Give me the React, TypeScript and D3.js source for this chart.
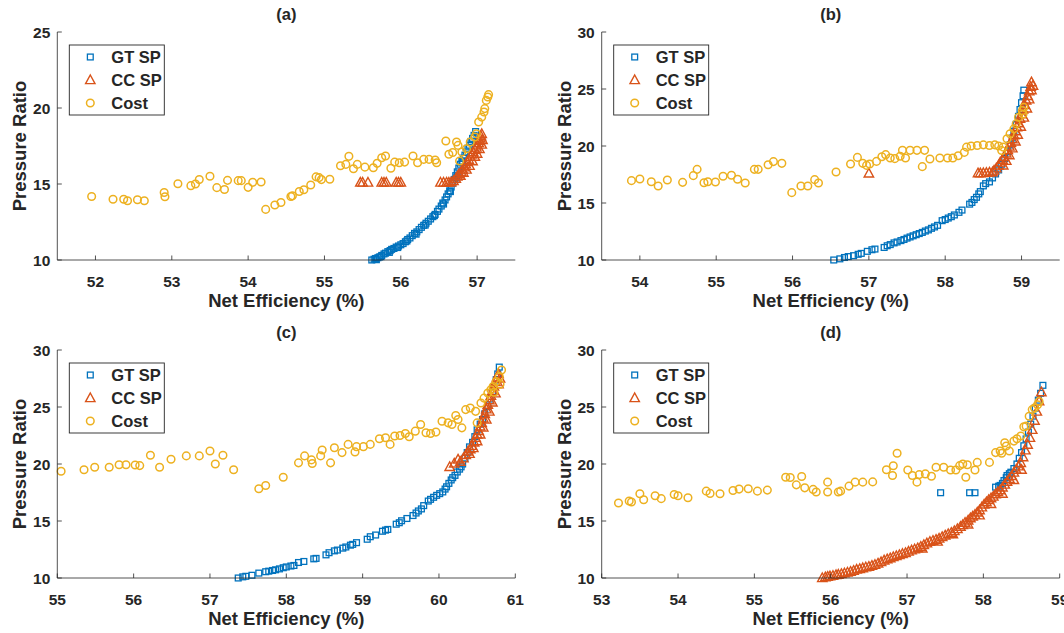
import React from 'react';
import * as d3 from 'd3';

type Pt = [number, number];

// ---------- Panel (a) ----------
const GT_A: Pt[] = [[55.62,10.0],[55.65,10.05],[55.67,10.1],[55.70,10.15],[55.72,10.2],[55.75,10.3],[55.78,10.4],[55.80,10.45],[55.83,10.55],[55.86,10.62],[55.88,10.7],[55.91,10.76],[55.94,10.85],[55.97,10.92],[56.00,11.0],[56.03,11.08],[56.06,11.2],[56.09,11.35],[56.12,11.45],[56.15,11.6],[56.18,11.75],[56.21,11.85],[56.24,12.0],[56.27,12.15],[56.30,12.28],[56.33,12.42],[56.36,12.55],[56.39,12.7],[56.42,12.85],[56.45,13.0],[56.48,13.2],[56.50,13.35],[56.53,13.55],[56.55,13.75],[56.58,13.95],[56.60,14.15],[56.62,14.35],[56.64,14.55],[56.66,14.8],[56.68,15.05],[56.70,15.3],[56.72,15.55],[56.74,15.8],[56.76,16.05],[56.78,16.3],[56.80,16.5],[56.82,16.7],[56.84,16.9],[56.86,17.1],[56.88,17.35],[56.90,17.55],[56.92,17.8],[56.94,18.0],[56.96,18.2],[56.98,18.45],[55.68,10.02],[55.74,10.22],[55.85,10.5],[55.96,10.82],[56.08,11.25],[56.2,11.7],[56.32,12.3],[56.44,12.92],[56.56,13.68],[56.65,14.5],[56.73,15.4],[56.81,16.4]];
const CC_A: Pt[] = [[55.47,15.1],[55.50,15.1],[55.57,15.1],[55.75,15.1],[55.78,15.1],[55.81,15.1],[55.94,15.1],[55.97,15.1],[56.00,15.1],[56.52,15.1],[56.56,15.1],[56.60,15.1],[56.63,15.1],[56.66,15.12],[56.69,15.2],[56.72,15.35],[56.74,15.5],[56.76,15.65],[56.79,15.8],[56.81,15.95],[56.83,16.1],[56.85,16.3],[56.87,16.45],[56.89,16.6],[56.91,16.8],[56.93,16.95],[56.95,17.1],[56.97,17.25],[56.99,17.4],[57.0,17.55],[57.02,17.7],[57.03,17.85],[57.04,18.0],[57.05,18.15],[57.06,18.3],[56.78,15.55],[56.82,15.75],[56.86,15.95],[56.9,16.2],[56.94,16.5],[56.97,16.8],[57.0,17.0],[57.03,17.3],[57.06,17.6],[57.07,17.9]];
const COST_A: Pt[] = [[51.95,14.18],[52.23,14.0],[52.37,14.0],[52.42,13.9],[52.55,13.96],[52.64,13.9],[52.9,14.44],[52.91,14.16],[53.08,15.02],[53.25,14.89],[53.31,15.0],[53.36,15.29],[53.5,15.51],[53.59,14.76],[53.69,14.64],[53.73,15.24],[53.87,15.22],[53.91,15.22],[54.0,14.78],[54.06,15.11],[54.17,15.13],[54.23,13.33],[54.35,13.62],[54.43,13.78],[54.56,14.18],[54.58,14.22],[54.67,14.51],[54.73,14.62],[54.82,14.93],[54.89,15.47],[54.93,15.42],[54.96,15.29],[55.07,15.31],[55.21,16.2],[55.28,16.29],[55.32,16.82],[55.38,16.0],[55.43,16.29],[55.53,16.11],[55.64,16.07],[55.69,16.36],[55.75,16.73],[55.8,16.84],[55.87,16.04],[55.92,16.44],[55.98,16.4],[56.05,16.44],[56.16,16.84],[56.22,16.4],[56.3,16.62],[56.37,16.62],[56.45,16.58],[56.47,16.4],[56.59,17.83],[56.63,16.96],[56.68,17.07],[56.73,17.76],[56.75,17.54],[56.77,16.51],[56.8,17.1],[56.86,17.32],[56.91,17.76],[56.97,18.09],[56.99,18.31],[57.02,19.08],[57.06,19.4],[57.09,19.74],[57.1,19.96],[57.12,20.5],[57.14,20.72],[57.15,20.88]];

// ---------- Panel (b) ----------
const GT_B: Pt[] = [[56.54,10.0],[56.62,10.1],[56.68,10.22],[56.73,10.3],[56.8,10.38],[56.86,10.5],[56.9,10.58],[56.98,10.76],[57.04,10.9],[57.08,10.96],[57.2,11.1],[57.24,11.25],[57.28,11.35],[57.33,11.5],[57.37,11.58],[57.42,11.7],[57.46,11.8],[57.5,11.92],[57.54,12.02],[57.58,12.12],[57.62,12.22],[57.66,12.32],[57.7,12.42],[57.74,12.54],[57.78,12.64],[57.82,12.78],[57.86,12.9],[57.9,13.04],[57.96,13.45],[58.0,13.55],[58.04,13.68],[58.08,13.8],[58.12,13.95],[58.18,14.18],[58.22,14.38],[58.32,14.9],[58.35,15.05],[58.38,15.3],[58.41,15.5],[58.44,15.8],[58.46,16.0],[58.5,16.5],[58.53,16.7],[58.58,16.85],[58.62,17.2],[58.66,17.55],[58.7,17.9],[58.74,18.4],[58.78,18.9],[58.82,19.5],[58.85,20.1],[58.88,20.7],[58.9,21.3],[58.93,21.9],[58.96,22.6],[58.98,23.2],[59.0,23.8],[59.02,24.4],[59.03,24.9]];
const CC_B: Pt[] = [[57.0,17.6],[58.43,17.62],[58.46,17.62],[58.5,17.63],[58.54,17.65],[58.58,17.68],[58.62,17.7],[58.64,17.85],[58.67,18.05],[58.7,18.3],[58.72,18.55],[58.75,18.8],[58.77,19.05],[58.8,19.35],[58.82,19.65],[58.84,19.95],[58.86,20.3],[58.88,20.6],[58.9,20.95],[58.92,21.3],[58.94,21.65],[58.96,22.0],[58.98,22.4],[59.0,22.8],[59.02,23.2],[59.04,23.6],[59.06,24.0],[59.08,24.4],[59.1,24.8],[59.12,25.2],[59.13,25.6],[58.76,18.3],[58.8,18.7],[58.84,19.2],[58.88,19.8],[58.92,20.4],[58.95,21.0],[58.99,21.7],[59.03,22.5],[59.07,23.3],[59.1,24.1],[59.13,24.9],[59.15,25.3]];
const COST_B: Pt[] = [[53.89,16.96],[54.0,17.1],[54.15,16.87],[54.24,16.49],[54.36,17.02],[54.56,16.81],[54.7,17.4],[54.75,17.95],[54.84,16.78],[54.89,16.87],[54.99,16.84],[55.09,17.34],[55.2,17.43],[55.28,17.08],[55.38,16.75],[55.5,17.95],[55.55,17.95],[55.68,18.36],[55.75,18.63],[55.86,18.48],[55.99,15.91],[56.11,16.49],[56.2,16.49],[56.29,17.05],[56.34,16.75],[56.57,17.72],[56.76,18.42],[56.85,19.0],[56.92,18.48],[56.97,18.3],[57.01,18.42],[57.1,18.65],[57.17,19.06],[57.22,19.24],[57.28,18.95],[57.34,18.89],[57.41,19.1],[57.44,19.62],[57.48,18.95],[57.54,19.62],[57.63,19.62],[57.7,18.19],[57.73,19.62],[57.8,18.86],[57.93,18.95],[58.03,18.95],[58.1,18.95],[58.17,19.15],[58.25,19.44],[58.28,19.9],[58.34,20.0],[58.42,20.05],[58.5,20.1],[58.58,20.05],[58.65,20.1],[58.7,20.0],[58.76,19.9],[58.74,19.6],[58.81,20.64],[58.85,21.07],[58.9,21.5],[58.93,21.94],[58.96,22.52],[59.01,23.1],[59.03,23.39],[59.02,22.8]];

// ---------- Panel (c) ----------
const GT_C: Pt[] = [[57.37,10.0],[57.43,10.1],[57.47,10.15],[57.55,10.24],[57.64,10.43],[57.73,10.55],[57.77,10.6],[57.82,10.66],[57.86,10.72],[57.91,10.8],[57.96,10.9],[58.0,10.97],[58.06,11.05],[58.1,11.1],[58.16,11.36],[58.23,11.45],[58.36,11.68],[58.39,11.72],[58.52,12.03],[58.56,12.22],[58.63,12.38],[58.67,12.45],[58.74,12.62],[58.78,12.72],[58.84,12.88],[58.87,12.95],[58.92,13.1],[59.06,13.4],[59.1,13.62],[59.17,13.77],[59.26,14.1],[59.3,14.2],[59.33,14.26],[59.44,14.72],[59.48,14.85],[59.51,15.02],[59.58,15.22],[59.66,15.48],[59.7,15.7],[59.73,15.88],[59.77,16.06],[59.8,16.35],[59.86,16.75],[59.89,16.9],[59.93,17.08],[59.97,17.25],[60.01,17.4],[60.05,17.55],[60.08,17.8],[60.1,18.0],[60.13,18.3],[60.16,18.6],[60.18,18.8],[60.21,19.0],[60.24,19.3],[60.27,19.55],[60.29,19.75],[60.31,20.0],[60.34,20.5],[60.37,21.0],[60.4,21.5],[60.44,21.9],[60.47,22.4],[60.5,23.0],[60.54,23.5],[60.57,23.9],[60.6,24.4],[60.64,25.05],[60.67,25.7],[60.7,26.3],[60.72,26.8],[60.75,27.4],[60.77,27.9],[60.79,28.5]];
const CC_C: Pt[] = [[60.14,19.75],[60.2,20.05],[60.25,20.4],[60.28,20.2],[60.32,20.5],[60.35,20.8],[60.38,21.1],[60.41,21.3],[60.43,21.6],[60.46,21.9],[60.48,22.3],[60.5,22.6],[60.52,22.9],[60.54,23.3],[60.56,23.6],[60.58,24.0],[60.6,24.4],[60.62,24.8],[60.64,25.2],[60.66,25.6],[60.68,26.0],[60.7,26.4],[60.72,26.8],[60.74,27.2],[60.76,27.6],[60.78,27.9],[60.4,20.9],[60.45,21.4],[60.5,22.0],[60.54,22.6],[60.58,23.2],[60.62,23.9],[60.66,24.6],[60.7,25.4],[60.74,26.2],[60.78,27.0],[60.8,27.5]];
const COST_C: Pt[] = [[55.05,19.36],[55.35,19.5],[55.49,19.71],[55.68,19.71],[55.81,19.94],[55.9,19.94],[56.02,19.91],[56.08,19.86],[56.22,20.77],[56.34,19.71],[56.49,20.42],[56.69,20.71],[56.86,20.71],[57.0,21.14],[57.07,20.0],[57.17,20.77],[57.31,19.5],[57.64,17.83],[57.73,18.12],[57.96,18.84],[58.16,20.1],[58.24,20.71],[58.33,20.36],[58.34,20.05],[58.45,20.71],[58.47,21.23],[58.58,20.1],[58.63,21.43],[58.73,21.0],[58.81,21.72],[58.9,21.06],[58.92,21.52],[59.01,21.52],[59.1,21.72],[59.22,22.22],[59.3,22.3],[59.36,21.72],[59.42,22.45],[59.49,22.5],[59.56,22.68],[59.61,22.39],[59.69,22.88],[59.76,23.46],[59.83,22.74],[59.89,22.68],[59.96,22.8],[60.04,23.75],[60.12,23.61],[60.17,23.46],[60.22,24.25],[60.25,23.9],[60.3,23.17],[60.35,24.77],[60.41,24.91],[60.48,24.62],[60.5,23.61],[60.55,25.35],[60.59,25.78],[60.64,26.22],[60.68,26.51],[60.71,26.8],[60.75,27.23],[60.79,27.67],[60.82,28.25],[60.8,27.0],[60.72,26.3]];

// ---------- Panel (d) ----------
const GT_D: Pt[] = [[57.44,17.48],[57.82,17.48],[57.89,17.48],[58.16,17.97],[58.2,18.05],[58.22,18.12],[58.25,18.3],[58.27,18.55],[58.3,18.8],[58.31,18.99],[58.34,19.15],[58.36,19.28],[58.4,19.6],[58.44,20.0],[58.47,20.5],[58.5,21.0],[58.53,21.6],[58.56,22.2],[58.59,22.8],[58.62,23.5],[58.65,24.2],[58.68,24.9],[58.72,25.6],[58.75,26.2],[58.78,26.9]];
const CC_D: Pt[] = [[55.89,10.0],[55.93,10.08],[55.96,10.12],[55.99,10.16],[56.03,10.2],[56.07,10.26],[56.1,10.3],[56.14,10.36],[56.18,10.42],[56.22,10.48],[56.26,10.56],[56.3,10.65],[56.34,10.74],[56.38,10.8],[56.42,10.87],[56.46,10.94],[56.5,11.0],[56.54,11.08],[56.58,11.16],[56.62,11.28],[56.66,11.4],[56.7,11.55],[56.74,11.65],[56.78,11.74],[56.82,11.84],[56.86,11.93],[56.9,12.02],[56.94,12.12],[56.98,12.2],[57.02,12.32],[57.06,12.43],[57.1,12.52],[57.14,12.62],[57.18,12.75],[57.22,12.9],[57.26,13.05],[57.3,13.18],[57.34,13.28],[57.38,13.36],[57.42,13.46],[57.46,13.6],[57.5,13.74],[57.54,13.86],[57.58,13.98],[57.62,14.12],[57.66,14.3],[57.7,14.5],[57.73,14.65],[57.76,14.85],[57.8,15.05],[57.83,15.25],[57.86,15.4],[57.89,15.55],[57.92,15.75],[57.95,15.95],[57.98,16.2],[58.01,16.45],[58.04,16.65],[58.07,16.85],[58.1,17.0],[58.13,17.15],[58.16,17.35],[58.19,17.55],[58.22,17.7],[58.25,17.95],[58.28,18.2],[58.31,18.45],[58.34,18.7],[58.37,18.95],[58.4,19.25],[58.43,19.5],[58.46,19.8],[58.49,20.1],[58.52,20.6],[58.55,21.2],[58.58,21.7],[58.61,22.3],[58.64,23.0],[58.67,23.8],[58.7,24.6],[58.73,25.5],[58.76,26.3],[57.2,12.6],[57.4,13.2],[57.6,13.85],[57.8,14.7],[57.95,15.5],[58.1,16.5],[58.25,17.4],[58.4,18.6],[58.5,19.5]];
const COST_D: Pt[] = [[53.22,16.58],[53.36,16.75],[53.39,16.67],[53.5,17.39],[53.55,16.87],[53.7,17.22],[53.78,16.96],[53.95,17.33],[54.0,17.22],[54.13,17.04],[54.37,17.62],[54.42,17.42],[54.55,17.39],[54.72,17.68],[54.8,17.8],[54.92,17.83],[55.04,17.62],[55.17,17.71],[55.41,18.84],[55.47,18.81],[55.55,18.17],[55.62,18.9],[55.66,17.91],[55.77,17.77],[55.81,17.54],[55.96,18.41],[55.96,17.54],[56.1,17.54],[56.13,17.62],[56.24,18.06],[56.32,18.41],[56.42,18.41],[56.55,18.43],[56.73,19.5],[56.81,18.99],[56.82,19.85],[56.87,20.94],[57.01,19.48],[57.07,18.99],[57.13,18.41],[57.16,19.07],[57.24,19.13],[57.32,18.93],[57.38,19.71],[57.48,19.71],[57.57,19.48],[57.64,19.48],[57.69,19.86],[57.73,20.0],[57.77,18.84],[57.79,19.94],[57.89,19.48],[57.92,20.14],[58.08,20.14],[58.16,21.0],[58.22,21.14],[58.24,20.94],[58.28,21.87],[58.3,21.58],[58.34,21.14],[58.4,22.01],[58.44,22.22],[58.49,22.45],[58.53,23.26],[58.56,23.32],[58.6,24.19],[58.64,24.77],[58.67,24.91],[58.71,25.2],[58.73,25.49]];

const TICKS_A_X = [52, 53, 54, 55, 56, 57];
const TICKS_B_X = [54, 55, 56, 57, 58, 59];
const TICKS_C_X = [55, 56, 57, 58, 59, 60, 61];
const TICKS_D_X = [53, 54, 55, 56, 57, 58, 59];
const TICKS_Y_25 = [10, 15, 20, 25];
const TICKS_Y_30 = [10, 15, 20, 25, 30];
const SERIES = ['GT SP', 'CC SP', 'Cost'];

const BLUE = '#0072BD';
const ORANGE = '#D95319';
const YELLOW = '#EDB120';
const AX = '#262626';
const FONT = '"Liberation Sans", Arial, Helvetica, sans-serif';
const PW = 458;
const PH = 228;

const TRI = 'M0,-5 L4.7,3.6 L-4.7,3.6 Z';

function Square({ cx, cy }: { cx: number; cy: number }) {
  return <rect x={cx - 2.9} y={cy - 2.9} width={5.8} height={5.8} fill="none" stroke={BLUE} strokeWidth={1.3} />;
}
function Tri({ cx, cy }: { cx: number; cy: number }) {
  return <path d={TRI} transform={`translate(${cx},${cy})`} fill="none" stroke={ORANGE} strokeWidth={1.4} strokeLinejoin="miter" />;
}
function Circ({ cx, cy }: { cx: number; cy: number }) {
  return <circle cx={cx} cy={cy} r={3.8} fill="none" stroke={YELLOW} strokeWidth={1.5} />;
}

interface PanelProps {
  left: number; top: number; title: string;
  xDomain: [number, number]; yDomain: [number, number];
  xTicks: number[]; yTicks: number[];
  gt: Pt[]; cc: Pt[]; cost: Pt[];
}

function Panel({ left, top, title, xDomain, yDomain, xTicks, yTicks, gt, cc, cost }: PanelProps) {
  const x = d3.scaleLinear().domain(xDomain).range([0, PW]);
  const y = d3.scaleLinear().domain(yDomain).range([PH, 0]);
  const legendRows = [25, 48, 71];
  return (
    <g transform={`translate(${left},${top})`} fontFamily={FONT} fontWeight="bold" fill={AX}>
      {gt.map((p, i) => <Square key={'g' + i} cx={x(p[0])} cy={y(p[1])} />)}
      {cc.map((p, i) => <Tri key={'c' + i} cx={x(p[0])} cy={y(p[1])} />)}
      {cost.map((p, i) => <Circ key={'o' + i} cx={x(p[0])} cy={y(p[1])} />)}

      <line x1={0} y1={PH} x2={PW} y2={PH} stroke={AX} strokeWidth={0.8} />
      <line x1={0} y1={0} x2={0} y2={PH} stroke={AX} strokeWidth={0.8} />
      {xTicks.map(t => (
        <g key={'xt' + t}>
          <line x1={x(t)} x2={x(t)} y1={PH} y2={PH - 4.5} stroke={AX} strokeWidth={0.8} />
          <text x={x(t)} y={PH + 27} textAnchor="middle" fontSize={15.5}>{t}</text>
        </g>
      ))}
      {yTicks.map(t => (
        <g key={'yt' + t}>
          <line x1={0} x2={4.5} y1={y(t)} y2={y(t)} stroke={AX} strokeWidth={0.8} />
          <text x={-7} y={y(t) + 5.5} textAnchor="end" fontSize={15.5}>{t}</text>
        </g>
      ))}
      <text x={PW / 2} y={-12} textAnchor="middle" fontSize={16.5}>{title}</text>
      <text x={PW / 2} y={PH + 47} textAnchor="middle" fontSize={18.5}>Net Efficiency (%)</text>
      <text transform={`translate(-31,${PH / 2}) rotate(-90)`} textAnchor="middle" fontSize={18.5}>Pressure Ratio</text>

      <rect x={12} y={13} width={95} height={70} fill="#fff" stroke={AX} strokeWidth={0.9} />
      <Square cx={33} cy={legendRows[0]} />
      <Tri cx={33} cy={legendRows[1]} />
      <Circ cx={33} cy={legendRows[2]} />
      {SERIES.map((s, i) => (
        <text key={s} x={54} y={legendRows[i] + 6} fontSize={16.5}>{s}</text>
      ))}
    </g>
  );
}

export default function App() {
  return (
    <svg width={1064} height={633} style={{ position: 'absolute', left: 0, top: 0, background: '#fff' }}>
      <rect width={1064} height={633} fill="#fff" />
      <Panel left={57.3} top={32} title="(a)" xDomain={[51.5, 57.5]} yDomain={[10, 25]} xTicks={TICKS_A_X} yTicks={TICKS_Y_25} gt={GT_A} cc={CC_A} cost={COST_A} />
      <Panel left={601.7} top={32} title="(b)" xDomain={[53.5, 59.5]} yDomain={[10, 30]} xTicks={TICKS_B_X} yTicks={TICKS_Y_30} gt={GT_B} cc={CC_B} cost={COST_B} />
      <Panel left={57.3} top={350} title="(c)" xDomain={[55, 61]} yDomain={[10, 30]} xTicks={TICKS_C_X} yTicks={TICKS_Y_30} gt={GT_C} cc={CC_C} cost={COST_C} />
      <Panel left={601.7} top={350} title="(d)" xDomain={[53, 59]} yDomain={[10, 30]} xTicks={TICKS_D_X} yTicks={TICKS_Y_30} gt={GT_D} cc={CC_D} cost={COST_D} />
    </svg>
  );
}
